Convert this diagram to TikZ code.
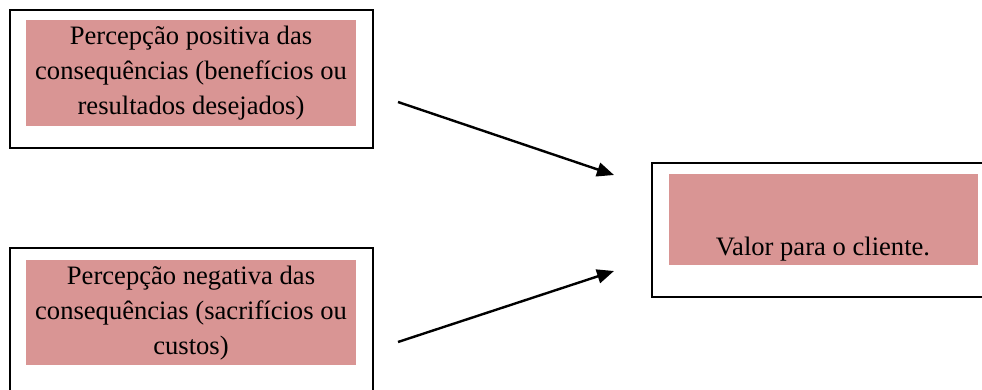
\documentclass[tikz,border=0pt]{standalone}
\usepackage{fontspec}
\setmainfont{Liberation Serif}
\usetikzlibrary{arrows.meta}
\definecolor{pinkfill}{RGB}{217,149,148}
\begin{document}
\begin{tikzpicture}[x=1pt,y=-1pt,
  outerbox/.style={draw=black,line width=1.6pt},
  pinkbox/.style={fill=pinkfill,draw=none},
  lbl/.style={font=\fontsize{26.6}{35}\selectfont,align=center,inner sep=0pt},
  conn/.style={line width=2.4pt,-{Triangle[length=17pt,width=14pt]}}]
\useasboundingbox (0,0) rectangle (982,390);
% outer boxes
\draw[outerbox] (10,10) rectangle (373,148);
\draw[outerbox] (10,400) -- (10,248) -- (373,248) -- (373,400);
\draw[outerbox] (995,163) -- (652,163) -- (652,297) -- (995,297);
% pink boxes
\fill[pinkbox] (26,20) rectangle (356,126);
\fill[pinkbox] (26,260) rectangle (356,365);
\fill[pinkbox] (669,174) rectangle (978,265);
% texts
\node[lbl] (pos) at (191,73) {Percepção positiva das\\consequências (benefícios ou\\resultados desejados)};
\node[lbl] (neg) at (191,313) {Percepção negativa das\\consequências (sacrifícios ou\\custos)};
\node[lbl,anchor=base] (val) at (823,255) {Valor para o cliente.};
% arrows
\coordinate (a1s) at (398,102);
\coordinate (a1e) at (614,175);
\coordinate (a2s) at (398,342);
\coordinate (a2e) at (614,271);
\draw[conn] (a1s) -- (a1e);
\draw[conn] (a2s) -- (a2e);
\end{tikzpicture}
\end{document}
